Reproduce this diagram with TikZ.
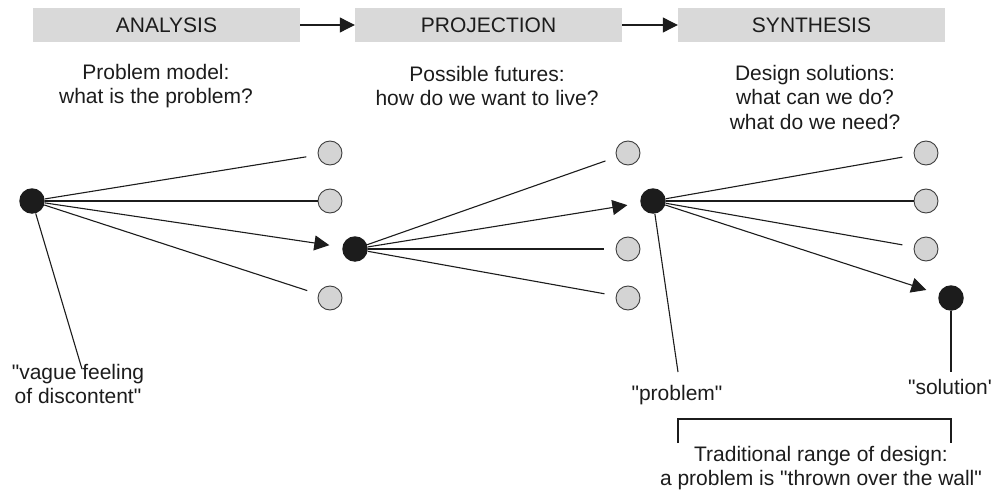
\documentclass[tikz,border=0pt]{standalone}
\usepackage{fontspec}
\setmainfont{Liberation Sans}
\usetikzlibrary{arrows.meta}
\definecolor{boxgray}{HTML}{D9D9D9}
\definecolor{dotgray}{HTML}{D4D4D4}
\definecolor{ink}{HTML}{1C1C1C}
% straight quote marks
\newcommand{\sq}{\textquotedbl}
\newcommand{\tick}{\textquotesingle}
\begin{document}
\begin{tikzpicture}[x=1pt,y=-1pt,
  every node/.style={text=ink, font=\fontsize{21}{24.5}\selectfont},
  phase/.style={fill=boxgray, minimum width=267pt, minimum height=34pt, inner sep=0pt},
  caption/.style={align=center, inner sep=0pt},
  option/.style={circle, fill=dotgray, draw=ink!85, line width=0.9pt, minimum size=24pt, inner sep=0pt},
  choice/.style={circle, fill=ink, minimum size=25.5pt, inner sep=0pt},
  link/.style={draw=ink, line width=1.1pt},
  gap/.style={shorten >=11.5pt},
  pick/.style={-{Triangle[length=15pt,width=15pt]}, shorten >=13pt},
  flow/.style={-{Triangle[length=15pt,width=15pt]}}]
\useasboundingbox (0,0) rectangle (1005,495);

% phase headers
\node[phase] (ana) at (166.5,25) {ANALYSIS};
\node[phase] (pro) at (488.5,25) {PROJECTION};
\node[phase] (syn) at (811.5,25) {SYNTHESIS};
\draw[link,flow] (ana) -- (pro);
\draw[link,flow] (pro) -- (syn);

% phase descriptions
\node[caption] (anatxt) at (156,86) {Problem model:\\what is the problem?};
\node[caption] (protxt) at (487,86) {Possible futures:\\how do we want to live?};
\node[caption] (syntxt) at (815,97) {Design solutions:\\what can we do?\\what do we need?};

% analysis
\node[choice] (a0) at (32,201) {};
\node[option] (a1) at (330,153) {};
\node[option] (a2) at (330,201) {};
\node[option] (a4) at (330,298) {};
\node[choice] (p0) at (355,249) {};
\draw[link,gap] (a0) -- (a1);
\draw[link] (a0) -- (a2);
\draw[link,pick] (a0) -- (p0);
\draw[link,gap] (a0) -- (a4);

% projection
\node[option] (p1) at (628,153) {};
\node[choice] (s0) at (653,201) {};
\node[option] (p3) at (628,249) {};
\node[option] (p4) at (628,298) {};
\draw[link,gap] (p0) -- (p1);
\draw[link,pick] (p0) -- (s0);
\draw[link,gap] (p0) -- (p3);
\draw[link,gap] (p0) -- (p4);

% synthesis
\node[option] (s1) at (926,153) {};
\node[option] (s2) at (926,201) {};
\node[option] (s3) at (926,249) {};
\node[choice] (s4) at (951,298) {};
\draw[link,gap] (s0) -- (s1);
\draw[link] (s0) -- (s2);
\draw[link,gap] (s0) -- (s3);
\draw[link,pick] (s0) -- (s4);

% pointers to the labels
\coordinate (vagueend) at (82,369);
\coordinate (probend) at (678,372);
\coordinate (solend) at (951,372);
\draw[link] (a0) -- (vagueend);
\draw[link] (s0) -- (probend);
\draw[link] (s4) -- (solend);
\node[caption] (vague) at (78,384) {\sq vague feeling\\of discontent\sq};
\node[caption] (prob) at (677,395) {\sq problem\sq};
\node[caption] (sol) at (950,387) {\sq solution\tick};

% traditional range bracket
\coordinate (bl) at (678,443);
\coordinate (blt) at (678,419);
\coordinate (brt) at (951,419);
\coordinate (br) at (951,443);
\draw[link] (bl) -- (blt) -- (brt) -- (br);
\node[caption] (range) at (821,468) {Traditional range of design:\\a problem is \sq thrown over the wall\sq};
\end{tikzpicture}
\end{document}
